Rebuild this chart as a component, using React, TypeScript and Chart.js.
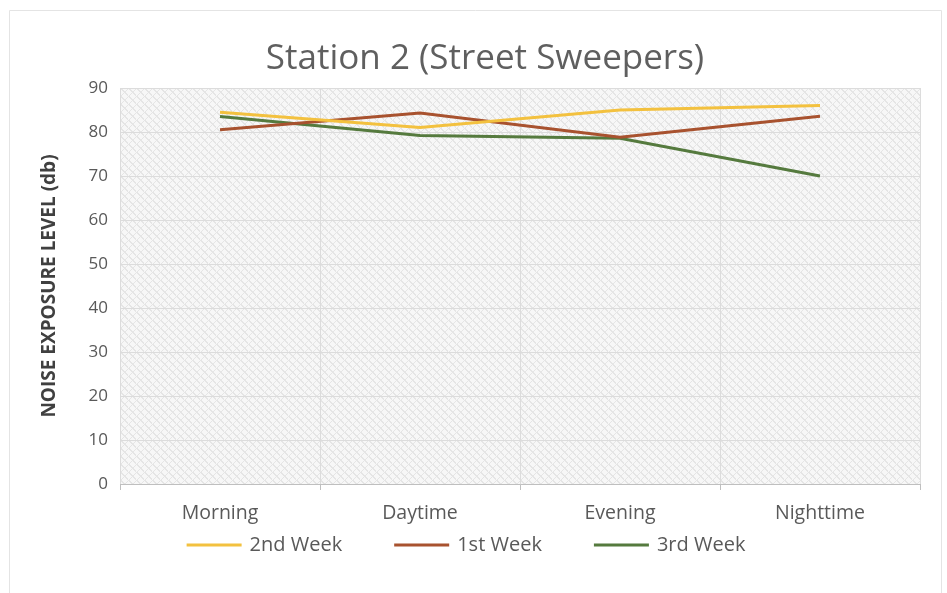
import React, { useEffect, useRef } from "react";
import { Chart, registerables } from "chart.js";

Chart.register(...registerables);

const categories = ["Morning", "Daytime", "Evening", "Nighttime"];
const week2 = [84.5, 81, 85, 86];
const week1 = [80.5, 84.3, 78.8, 83.6];
const week3 = [83.5, 79.2, 78.6, 70];
const seriesNames = ["2nd Week", "1st Week", "3rd Week"];
const titleText = "Station 2 (Street Sweepers)";
const yTitle = "NOISE EXPOSURE LEVEL (db)";

const FONT = "'Open Sans', Lato, sans-serif";

function makePattern(ctx: CanvasRenderingContext2D) {
  const c = document.createElement("canvas");
  c.width = 8;
  c.height = 8;
  const p = c.getContext("2d")!;
  p.fillStyle = "#f7f7f7";
  p.fillRect(0, 0, 8, 8);
  p.fillStyle = "#e5e5e5";
  for (let i = 0; i < 8; i++) {
    p.fillRect(i, i, 2, 1);
    p.fillRect((8 - i) % 8, i, 1, 1);
  }
  return ctx.createPattern(c, "repeat");
}

const bgPlugin = {
  id: "bgPattern",
  beforeDraw(chart: any) {
    const { ctx, chartArea, width, height } = chart;
    ctx.save();
    ctx.fillStyle = "#ffffff";
    ctx.fillRect(0, 0, width, height);
    ctx.strokeStyle = "#e4e4e4";
    ctx.lineWidth = 1;
    ctx.beginPath();
    ctx.moveTo(9.5, height);
    ctx.lineTo(9.5, 10.5);
    ctx.lineTo(941.5, 10.5);
    ctx.lineTo(941.5, height);
    ctx.stroke();
    const pat = makePattern(ctx);
    if (pat) {
      ctx.fillStyle = pat;
      ctx.fillRect(chartArea.left, chartArea.top, chartArea.right - chartArea.left, chartArea.bottom - chartArea.top);
    }
    ctx.restore();
  },
};

// Legend drawn from the chart's own datasets, laid out like the Excel legend
const legendPlugin = {
  id: "excelLegend",
  afterDraw(chart: any) {
    const { ctx } = chart;
    const boxW = 55;
    const gap = 8;
    const itemGap = 52;
    const centerX = 466;
    const y = 545;
    ctx.save();
    ctx.font = `20px ${FONT}`;
    const items = chart.data.datasets.map((ds: any) => ({
      label: ds.label,
      color: ds.borderColor,
      w: boxW + gap + ctx.measureText(ds.label).width,
    }));
    const total = items.reduce((a: number, it: any) => a + it.w, 0) + itemGap * (items.length - 1);
    let x = centerX - total / 2;
    ctx.textBaseline = "middle";
    ctx.textAlign = "left";
    items.forEach((it: any) => {
      ctx.fillStyle = it.color;
      ctx.fillRect(x, y - 1.5, boxW, 3);
      ctx.fillStyle = "#595959";
      ctx.fillText(it.label, x + boxW + gap, y);
      x += it.w + itemGap;
    });
    ctx.restore();
  },
};

export default function App() {
  const ref = useRef<HTMLCanvasElement>(null);
  useEffect(() => {
    const chart = new Chart(ref.current!, {
      type: "line",
      data: {
        labels: categories,
        datasets: [
          { label: seriesNames[0], data: week2, borderColor: "#f3c13f", backgroundColor: "#f3c13f", borderWidth: 3, pointRadius: 0, tension: 0 },
          { label: seriesNames[1], data: week1, borderColor: "#a8522f", backgroundColor: "#a8522f", borderWidth: 3, pointRadius: 0, tension: 0 },
          { label: seriesNames[2], data: week3, borderColor: "#557a3e", backgroundColor: "#557a3e", borderWidth: 3, pointRadius: 0, tension: 0 },
        ],
      },
      options: {
        animation: false,
        responsive: false,
        maintainAspectRatio: false,
        layout: { padding: { left: 50, right: 27, top: 0, bottom: 69 } },
        plugins: {
          title: {
            display: true,
            text: titleText,
            color: "#5f5f5f",
            font: { family: FONT, size: 35, weight: "normal" },
            padding: { top: 38, bottom: 8 },
          },
          legend: { display: false },
          tooltip: { enabled: false },
        },
        scales: {
          x: {
            offset: true,
            afterFit: (s: any) => { s.height = 40; },
            grid: { offset: true, color: "#dcdcdc", tickLength: 6, tickColor: "#bfbfbf" },
            border: { color: "#bfbfbf" },
            ticks: { color: "#595959", font: { family: FONT, size: 19.5 }, padding: 12, autoSkip: false, maxRotation: 0 },
          },
          y: {
            min: 0,
            max: 90,
            afterFit: (s: any) => { s.width = 70; },
            ticks: { stepSize: 10, color: "#595959", font: { family: FONT, size: 17 }, padding: 12 },
            grid: { color: "#dcdcdc", drawTicks: false },
            border: { display: false },
            title: {
              display: true,
              text: yTitle,
              color: "#404040",
              font: { family: FONT, size: 19, weight: "bold" },
              padding: { top: -12, bottom: 0 },
            },
          },
        },
      },
      plugins: [bgPlugin, legendPlugin],
    });
    return () => chart.destroy();
  }, []);
  return (
    <div style={{ position: "fixed", left: 0, top: 0, width: 947, height: 593 }}>
      <canvas ref={ref} width={947} height={593} style={{ width: 947, height: 593 }} />
    </div>
  );
}
